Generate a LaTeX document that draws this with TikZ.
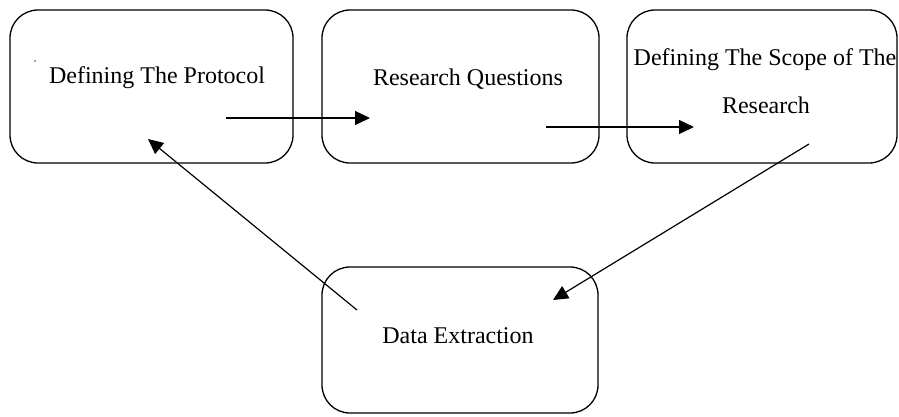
\documentclass[tikz,border=0pt]{standalone}
\usepackage{fontspec}
\setmainfont{Liberation Serif}
\usetikzlibrary{arrows.meta}
\begin{document}
\begin{tikzpicture}[x=1pt,y=-1pt,
  stage/.style={draw=black, line width=1.3pt, rounded corners=28pt, inner sep=0pt},
  label/.style={font=\fontsize{24}{24}\selectfont, anchor=base, inner sep=0pt},
  flow/.style={line width=1.2pt, -{Triangle[length=15pt,width=14pt]}}]
\useasboundingbox (0,0) rectangle (899,416);

% stage boxes
\node[stage, minimum width=283pt, minimum height=153pt] (protocol) at (151.5,86.5) {};
\node[stage, minimum width=277pt, minimum height=153pt] (questions) at (460.5,86.5) {};
\node[stage, minimum width=270pt, minimum height=153pt] (scope) at (762,86.5) {};
\node[stage, minimum width=276pt, minimum height=146pt] (extraction) at (460,340) {};

% box texts
\node[label] (tprotocol) at (157,83) {Defining The Protocol};
\node[label] (tquestions) at (468,85) {Research Questions};
\node[label] (tscope1) at (765,65) {Defining The Scope of The};
\node[label] (tscope2) at (766,113) {Research};
\node[label] (textraction) at (458,343) {Data Extraction};
\node[font=\fontsize{9}{9}\selectfont, inner sep=0pt] (tick) at (35,64) {'};

% arrow end points inside the boxes
\coordinate (a1s) at (226,118);
\coordinate (a1e) at (370,118);
\coordinate (a2s) at (546,127);
\coordinate (a2e) at (694,127);
\coordinate (a3s) at (809,144);
\coordinate (a3e) at (553,300);
\coordinate (a4s) at (357,310);
\coordinate (a4e) at (148,139);

% connectors
\draw[flow] (a1s) -- (a1e);
\draw[flow] (a2s) -- (a2e);
\draw[flow] (a3s) -- (a3e);
\draw[flow] (a4s) -- (a4e);
\end{tikzpicture}
\end{document}
